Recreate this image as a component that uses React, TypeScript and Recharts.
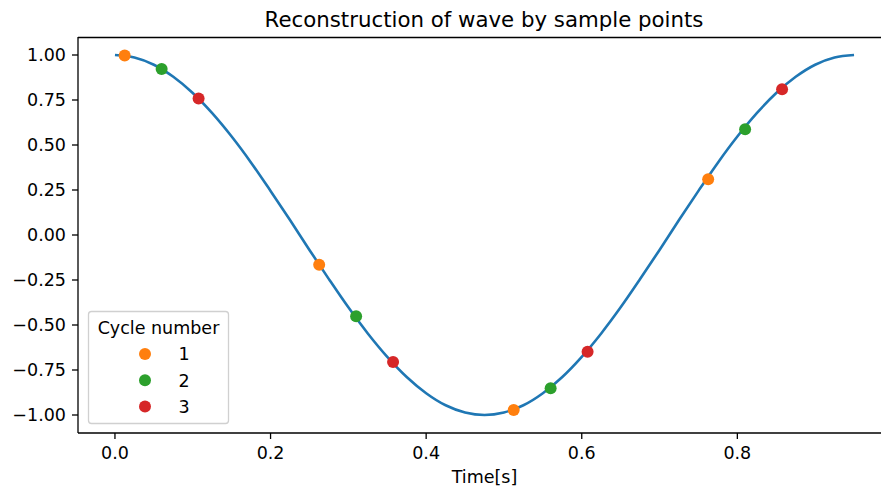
import { ComposedChart, Line, Scatter, XAxis, YAxis } from "recharts";

// wave, t in seconds
const waveT = [
  0, 0.025, 0.05, 0.075, 0.1, 0.125, 0.15, 0.175, 0.2, 0.225, 0.25, 0.275, 0.3,
  0.325, 0.35, 0.375, 0.4, 0.425, 0.45, 0.475, 0.5, 0.525, 0.55, 0.575, 0.6,
  0.625, 0.65, 0.675, 0.7, 0.725, 0.75, 0.775, 0.8, 0.825, 0.85, 0.875, 0.9,
  0.925, 0.95,
];
const waveY = [
  1.0, 0.986, 0.946, 0.879, 0.789, 0.677, 0.547, 0.402, 0.245, 0.083, -0.083,
  -0.245, -0.402, -0.547, -0.677, -0.789, -0.879, -0.946, -0.986, -1.0, -0.986,
  -0.946, -0.879, -0.789, -0.677, -0.547, -0.402, -0.245, -0.083, 0.083, 0.245,
  0.402, 0.547, 0.677, 0.789, 0.879, 0.946, 0.986, 1.0,
];

// sample points per cycle
const cycle1T = [0.0125, 0.2625, 0.5125, 0.7625];
const cycle1Y = [0.997, -0.165, -0.972, 0.31];
const cycle2T = [0.06, 0.31, 0.56, 0.81];
const cycle2Y = [0.922, -0.452, -0.851, 0.588];
const cycle3T = [0.1075, 0.3575, 0.6075, 0.8575];
const cycle3Y = [0.758, -0.705, -0.648, 0.81];

const xTicks = [0, 0.2, 0.4, 0.6, 0.8];
const yTicks = [-1, -0.75, -0.5, -0.25, 0, 0.25, 0.5, 0.75, 1];

const cycleNames = ["1", "2", "3"];
const colors = ["#ff7f0e", "#2ca02c", "#d62728"];

const zip = (ts: number[], ys: number[]) => ts.map((t, i) => ({ t, y: ys[i] }));

const wave = zip(waveT, waveY);
const cycles = [zip(cycle1T, cycle1Y), zip(cycle2T, cycle2Y), zip(cycle3T, cycle3Y)];

const font = "DejaVu Sans, sans-serif";
const tickStyle = { fontSize: 17.5, fill: "#000", fontFamily: font };
const axisStroke = { stroke: "#000", strokeWidth: 1.3 };

const fmtY = (v: number) => (v < 0 ? "\u2212" + Math.abs(v).toFixed(2) : v.toFixed(2));

export default function App() {
  return (
    <div style={{ position: "absolute", left: 0, top: 0, width: 881, height: 492, overflow: "hidden", background: "#fff" }}>
      <ComposedChart width={893} height={492} margin={{ top: 37, right: 2, bottom: 0, left: 0 }}>
        <XAxis
          type="number"
          dataKey="t"
          domain={[-0.0475, 0.9975]}
          ticks={xTicks}
          tickFormatter={(v: number) => v.toFixed(1)}
          allowDataOverflow
          height={59}
          tickSize={6}
          tickMargin={8}
          tick={tickStyle}
          axisLine={axisStroke}
          tickLine={axisStroke}
          label={{ value: "Time[s]", position: "insideBottom", offset: 9, style: { fontSize: 17.5, fill: "#000", fontFamily: font } }}
        />
        <YAxis
          type="number"
          dataKey="y"
          domain={[-1.1, 1.1]}
          ticks={yTicks}
          tickFormatter={fmtY}
          allowDataOverflow
          width={78}
          tickSize={6}
          tickMargin={6}
          tick={tickStyle}
          axisLine={axisStroke}
          tickLine={axisStroke}
        />
        <Line
          data={wave}
          dataKey="y"
          type="monotone"
          stroke="#1f77b4"
          strokeWidth={2.6}
          dot={false}
          activeDot={false}
          isAnimationActive={false}
        />
        {cycles.map((c, i) => (
          <Scatter
            key={i}
            name={cycleNames[i]}
            data={c}
            dataKey="y"
            fill={colors[i]}
            isAnimationActive={false}
            shape={(p: any) => <circle cx={p.cx} cy={p.cy} r={6} fill={colors[i]} />}
          />
        ))}
      </ComposedChart>
      <svg width={881} height={492} style={{ position: "absolute", left: 0, top: 0, pointerEvents: "none" }}>
        <line x1={78} y1={37.5} x2={893} y2={37.5} stroke="#000" strokeWidth={1.3} />
        <text x={484} y={27.3} textAnchor="middle" fontSize={21.3} fontFamily={font} fill="#000">
          Reconstruction of wave by sample points
        </text>
        <rect x={88.5} y={311.5} width={140} height={112} rx={3} fill="#fff" fillOpacity={0.8} stroke="#d0d0d0" strokeWidth={1.3} />
        <text x={158.5} y={333.5} textAnchor="middle" fontSize={17.5} fontFamily={font} fill="#000">
          Cycle number
        </text>
        {cycleNames.map((n, i) => (
          <g key={n}>
            <circle cx={145} cy={354 + i * 26.3} r={6} fill={colors[i]} />
            <text x={184} y={360 + i * 26.5} textAnchor="middle" fontSize={17.5} fontFamily={font} fill="#000">
              {n}
            </text>
          </g>
        ))}
      </svg>
    </div>
  );
}
